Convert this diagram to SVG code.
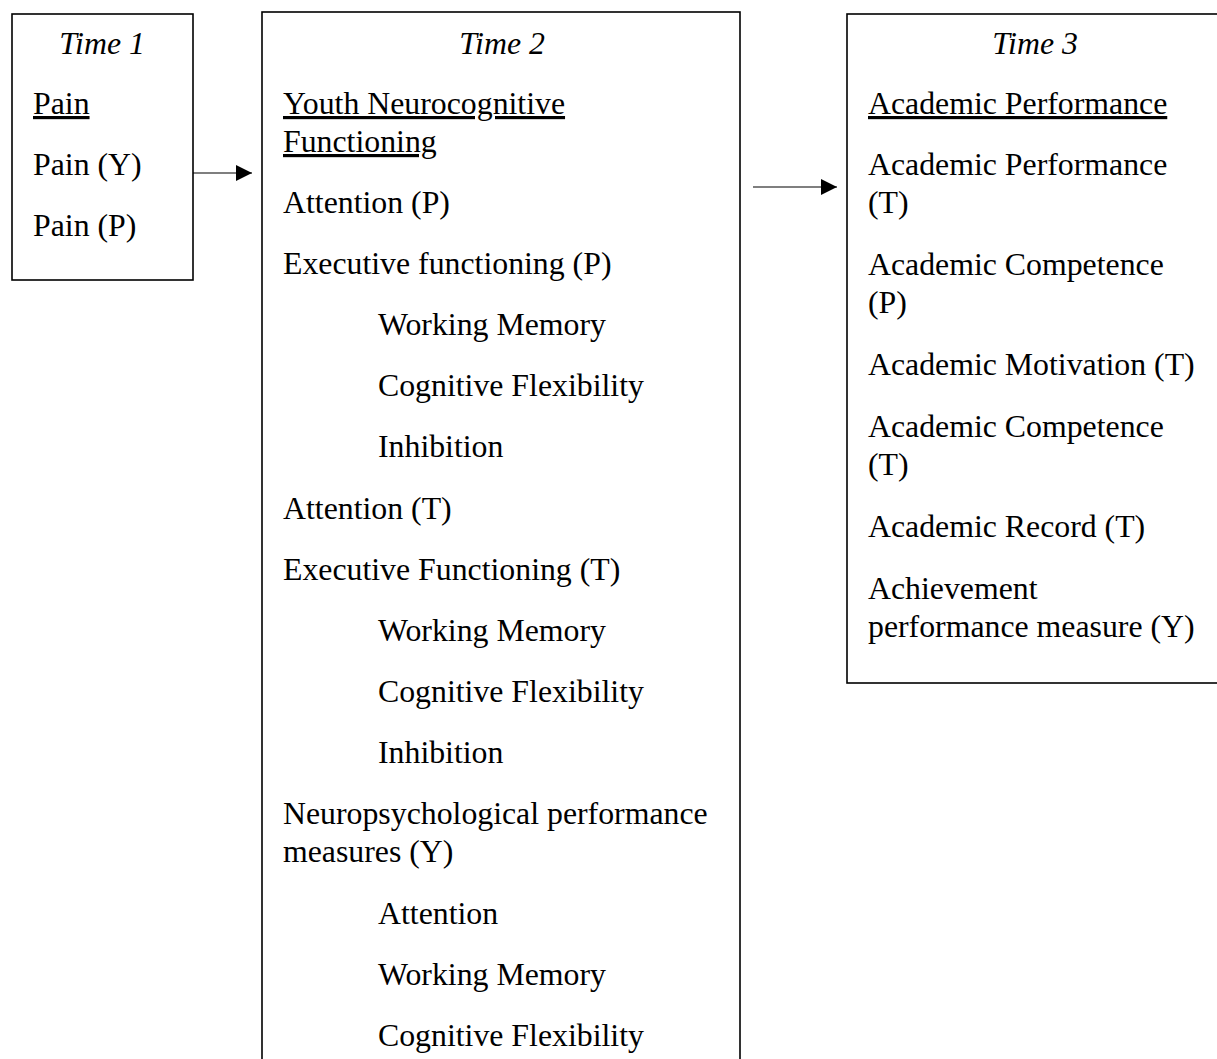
<svg xmlns="http://www.w3.org/2000/svg" width="1217" height="1059" viewBox="0 0 1217 1059">
<style>
.box{fill:#fff;stroke:#000;stroke-width:1.6}
text{font-family:"Liberation Serif","Times New Roman",serif;font-size:31.8px;fill:#000}
.hd{font-style:italic;text-anchor:middle}
.u{text-decoration:underline}
.con{stroke:#000;stroke-width:1.2;fill:none}
</style>
<defs>
<marker id="ah" markerUnits="userSpaceOnUse" markerWidth="16" markerHeight="16" refX="16" refY="8" orient="auto">
<path d="M0,0 L16,8 L0,16 Z" fill="#000"/>
</marker>
</defs>
<rect width="1217" height="1059" fill="#fff"/>
<g id="time1">
<rect class="box" x="12" y="14" width="181" height="266"/>
<text class="hd" x="102" y="54">Time 1</text>
<text class="u" x="33" y="114">Pain</text>
<text x="33" y="175">Pain (Y)</text>
<text x="33" y="236">Pain (P)</text>
</g>
<g id="time2">
<rect class="box" x="262" y="12" width="478" height="1070"/>
<text class="hd" x="502" y="54">Time 2</text>
<text class="u" x="283" y="114">Youth Neurocognitive</text>
<text class="u" x="283" y="152">Functioning</text>
<text x="283" y="213">Attention (P)</text>
<text x="283" y="274">Executive functioning (P)</text>
<text x="378" y="335">Working Memory</text>
<text x="378" y="396">Cognitive Flexibility</text>
<text x="378" y="457">Inhibition</text>
<text x="283" y="519">Attention (T)</text>
<text x="283" y="580">Executive Functioning (T)</text>
<text x="378" y="641">Working Memory</text>
<text x="378" y="702">Cognitive Flexibility</text>
<text x="378" y="763">Inhibition</text>
<text x="283" y="824">Neuropsychological performance</text>
<text x="283" y="862">measures (Y)</text>
<text x="378" y="924">Attention</text>
<text x="378" y="985">Working Memory</text>
<text x="378" y="1046">Cognitive Flexibility</text>
</g>
<g id="time3">
<rect class="box" x="847" y="14" width="380" height="669"/>
<text class="hd" x="1035" y="54">Time 3</text>
<text class="u" x="868" y="114">Academic Performance</text>
<text x="868" y="175">Academic Performance</text>
<text x="868" y="213">(T)</text>
<text x="868" y="275">Academic Competence</text>
<text x="868" y="313">(P)</text>
<text x="868" y="375">Academic Motivation (T)</text>
<text x="868" y="437">Academic Competence</text>
<text x="868" y="475">(T)</text>
<text x="868" y="537">Academic Record (T)</text>
<text x="868" y="599">Achievement</text>
<text x="868" y="637">performance measure (Y)</text>
</g>
<g id="connectors">
<line class="con" x1="193" y1="173" x2="252" y2="173" marker-end="url(#ah)"/>
<line class="con" x1="753" y1="187" x2="837" y2="187" marker-end="url(#ah)"/>
</g>
</svg>
